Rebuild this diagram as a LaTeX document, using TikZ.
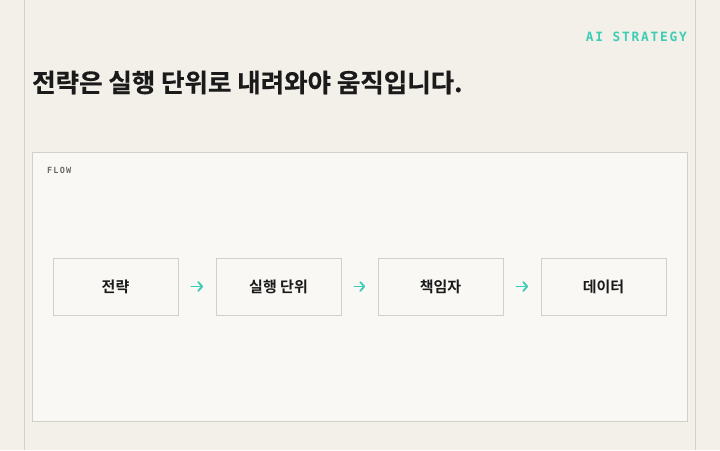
\documentclass[tikz,border=0pt]{standalone}
\usepackage{fontspec}
\setmainfont{Noto Sans CJK KR}[BoldFont={* Bold}]
\newfontfamily\krbold{Noto Sans CJK KR Bold}
\newfontfamily\krtitle{Noto Sans CJK KR Bold}[FakeBold=0.6]
\newfontfamily\monoB{DejaVu Sans Mono Bold}[LetterSpace=14]
\newfontfamily\monoS{DejaVu Sans Mono Bold}[LetterSpace=14]
\usetikzlibrary{arrows.meta}
\definecolor{bgc}{HTML}{F3F0E9}
\definecolor{panelc}{HTML}{F9F8F5}
\definecolor{linec}{HTML}{D3D0C9}
\definecolor{teal}{HTML}{3DCDB5}
\definecolor{ink}{HTML}{1A1A1A}
\definecolor{greyt}{HTML}{6B6B66}
\tikzset{
  stepbox/.style={draw=linec, line width=0.8pt, fill=panelc, minimum width=125pt, minimum height=57pt, inner sep=0pt, font=\krbold\fontsize{15}{18}\selectfont, text=ink},
  flowarrow/.style={draw=teal, line width=1.8pt, line cap=round, -{Straight Barb[length=4pt,width=9pt,round]}}
}
\begin{document}
\begin{tikzpicture}[x=1pt,y=-1pt]
\useasboundingbox (0,0) rectangle (720,450);
\fill[bgc] (0,0) rectangle (720,450);
\draw[linec, line width=0.8pt] (24.5,0) -- (24.5,450);
\draw[linec, line width=0.8pt] (695.5,0) -- (695.5,450);
\node[anchor=base east, text=teal, inner sep=0pt, font=\monoB\fontsize{12.8}{15}\selectfont] (tag) at (687,41.5) {AI STRATEGY};
\node[anchor=base west, text=ink, inner sep=0pt, font=\krtitle\fontsize{25.5}{30}\selectfont] (title) at (32,92) {전략은 실행 단위로 내려와야 움직입니다.};
\draw[linec, line width=0.8pt, fill=panelc] (32.5,152.5) rectangle (687.5,421.5);
\node[anchor=base west, text=greyt, inner sep=0pt, font=\monoS\fontsize{8.5}{10}\selectfont] (flow) at (47,173) {FLOW};
\node[stepbox] (s1) at (115.5,286.5) {전략};
\node[stepbox] (s2) at (278.5,286.5) {실행 단위};
\node[stepbox] (s3) at (440.5,286.5) {책임자};
\node[stepbox] (s4) at (603.5,286.5) {데이터};
\draw[flowarrow] ([xshift=13pt]s1.east) -- ([xshift=-12.5pt]s2.west);
\draw[flowarrow] ([xshift=13pt]s2.east) -- ([xshift=-12.5pt]s3.west);
\draw[flowarrow] ([xshift=13pt]s3.east) -- ([xshift=-12.5pt]s4.west);
\end{tikzpicture}
\end{document}
